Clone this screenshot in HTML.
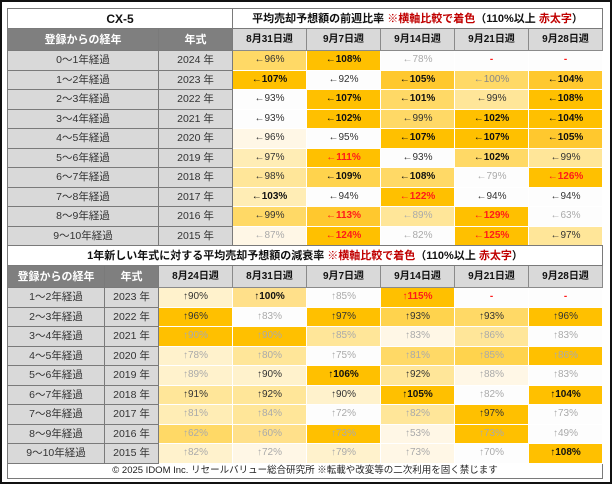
<!DOCTYPE html>
<html><head><meta charset="utf-8">
<style>
html,body{margin:0;padding:0}
body{width:612px;height:484px;position:relative;background:#fff;font-family:"Liberation Sans","Noto Sans CJK JP",sans-serif;overflow:hidden}
.frame{position:absolute;left:0;top:0;width:608px;height:480px;border:2px solid #111}
table{position:absolute;left:7px;border-collapse:collapse;table-layout:fixed;width:596px}
td{padding:0;text-align:center;font-size:10px;color:#333;border:1px solid #fff;white-space:nowrap;overflow:hidden;line-height:12px}
td.l{background:#d9d9d9;border:1px solid #7a7a7a;color:#333;font-size:10.5px}
td.h{background:#7f7f7f;color:#fff;font-weight:bold;border:1px solid #7a7a7a;font-size:11px}
td.d{background:#d9d9d9;color:#111;font-weight:bold;border:1px solid #8a8a8a;font-size:10px}
td.t{background:#fff;border:1px solid #7a7a7a;font-weight:bold;font-size:11px;color:#111}
.r{color:#c00000}
.b{font-weight:bold;color:#111}
.g{color:#aaa}
.red{color:#ff1a1a;font-weight:bold}
.o{background:#ffc000}.o2{background:#ffc82e}.o3{background:#ffd34d}.y{background:#ffd966}.y2{background:#ffe08a}.y3{background:#ffe699}.y4{background:#ffedb5}.y5{background:#fff2cc}.y6{background:#fff7e6}.w{background:#fdfdfd}
tr.r1 td{height:18.5px}
</style></head><body>
<div class="frame"></div>
<table style="top:8px">
<colgroup><col style="width:151px"><col style="width:74px"><col><col><col><col><col></colgroup>
<tr style="height:20px"><td class="t" colspan="2" style="font-size:12px">CX-5</td><td class="t" colspan="5">平均売却予想額の前週比率 <span class="r">※横軸比較で着色</span>（110%以上 <span class="r">赤太字</span>）</td></tr>
<tr style="height:22px"><td class="h">登録からの経年</td><td class="h">年式</td><td class="d">8月31日週</td><td class="d">9月7日週</td><td class="d">9月14日週</td><td class="d">9月21日週</td><td class="d">9月28日週</td></tr>
<tr class="r1"><td class="l">0～1年経過</td><td class="l">2024 年</td><td class="y">←96%</td><td class="o b">←108%</td><td class="w g">←78%</td><td class="w red">-</td><td class="w red">-</td></tr>
<tr class="r1"><td class="l">1～2年経過</td><td class="l">2023 年</td><td class="o b">←107%</td><td class="w">←92%</td><td class="o2 b">←105%</td><td class="y" style="color:#888">←100%</td><td class="o2 b">←104%</td></tr>
<tr class="r1"><td class="l">2～3年経過</td><td class="l">2022 年</td><td class="w">←93%</td><td class="o b">←107%</td><td class="y b">←101%</td><td class="y3">←99%</td><td class="o b">←108%</td></tr>
<tr class="r1"><td class="l">3～4年経過</td><td class="l">2021 年</td><td class="w">←93%</td><td class="o b">←102%</td><td class="y">←99%</td><td class="o b">←102%</td><td class="o b">←104%</td></tr>
<tr class="r1"><td class="l">4～5年経過</td><td class="l">2020 年</td><td class="y6">←96%</td><td class="w">←95%</td><td class="o b">←107%</td><td class="o b">←107%</td><td class="o2 b">←105%</td></tr>
<tr class="r1"><td class="l">5～6年経過</td><td class="l">2019 年</td><td class="y4">←97%</td><td class="o red">←111%</td><td class="w">←93%</td><td class="y b">←102%</td><td class="y3">←99%</td></tr>
<tr class="r1"><td class="l">6～7年経過</td><td class="l">2018 年</td><td class="y3">←98%</td><td class="o3 b">←109%</td><td class="y b">←108%</td><td class="w g">←79%</td><td class="o red">←126%</td></tr>
<tr class="r1"><td class="l">7～8年経過</td><td class="l">2017 年</td><td class="y4 b">←103%</td><td class="w">←94%</td><td class="o red">←122%</td><td class="w">←94%</td><td class="w">←94%</td></tr>
<tr class="r1"><td class="l">8～9年経過</td><td class="l">2016 年</td><td class="y">←99%</td><td class="o2 red">←113%</td><td class="y3 g">←89%</td><td class="o red">←129%</td><td class="w g">←63%</td></tr>
<tr class="r1"><td class="l">9～10年経過</td><td class="l">2015 年</td><td class="y6 g">←87%</td><td class="o red">←124%</td><td class="w g">←82%</td><td class="o red">←125%</td><td class="y3">←97%</td></tr>
</table>
<table style="top:245px">
<colgroup><col style="width:97px"><col style="width:54px"><col><col><col><col><col><col></colgroup>
<tr style="height:20px"><td class="t" colspan="8">1年新しい年式に対する平均売却予想額の減衰率 <span class="r">※横軸比較で着色</span>（110%以上 <span class="r">赤太字</span>）</td></tr>
<tr style="height:22px"><td class="h">登録からの経年</td><td class="h">年式</td><td class="d">8月24日週</td><td class="d">8月31日週</td><td class="d">9月7日週</td><td class="d">9月14日週</td><td class="d">9月21日週</td><td class="d">9月28日週</td></tr>
<tr class="r1"><td class="l">1～2年経過</td><td class="l">2023 年</td><td class="y5">↑90%</td><td class="y2 b">↑100%</td><td class="w g">↑85%</td><td class="o red">↑115%</td><td class="w red">-</td><td class="w red">-</td></tr>
<tr class="r1"><td class="l">2～3年経過</td><td class="l">2022 年</td><td class="o">↑96%</td><td class="w g">↑83%</td><td class="o">↑97%</td><td class="o3">↑93%</td><td class="y">↑93%</td><td class="o">↑96%</td></tr>
<tr class="r1"><td class="l">3～4年経過</td><td class="l">2021 年</td><td class="o g">↑90%</td><td class="o g">↑90%</td><td class="y3 g">↑85%</td><td class="y6 g">↑83%</td><td class="y3 g">↑86%</td><td class="w g">↑83%</td></tr>
<tr class="r1"><td class="l">4～5年経過</td><td class="l">2020 年</td><td class="y5 g">↑78%</td><td class="y3 g">↑80%</td><td class="w g">↑75%</td><td class="y g">↑81%</td><td class="o3 g">↑85%</td><td class="o g">↑86%</td></tr>
<tr class="r1"><td class="l">5～6年経過</td><td class="l">2019 年</td><td class="y5 g">↑89%</td><td class="y5">↑90%</td><td class="o b">↑106%</td><td class="y3">↑92%</td><td class="y6 g">↑88%</td><td class="w g">↑83%</td></tr>
<tr class="r1"><td class="l">6～7年経過</td><td class="l">2018 年</td><td class="y3">↑91%</td><td class="y3">↑92%</td><td class="y5">↑90%</td><td class="o b">↑105%</td><td class="w g">↑82%</td><td class="o b">↑104%</td></tr>
<tr class="r1"><td class="l">7～8年経過</td><td class="l">2017 年</td><td class="y4 g">↑81%</td><td class="y3 g">↑84%</td><td class="w g">↑72%</td><td class="y3 g">↑82%</td><td class="o">↑97%</td><td class="w g">↑73%</td></tr>
<tr class="r1"><td class="l">8～9年経過</td><td class="l">2016 年</td><td class="y g">↑62%</td><td class="y2 g">↑60%</td><td class="o g">↑73%</td><td class="y6 g">↑53%</td><td class="o g">↑73%</td><td class="w g">↑49%</td></tr>
<tr class="r1"><td class="l">9～10年経過</td><td class="l">2015 年</td><td class="y5 g">↑82%</td><td class="y6 g">↑72%</td><td class="y5 g">↑79%</td><td class="y6 g">↑73%</td><td class="w g">↑70%</td><td class="o b">↑108%</td></tr>
<tr style="height:15px"><td colspan="8" style="border:1px solid #7a7a7a;font-size:9.5px;color:#222">© 2025 IDOM Inc. リセールバリュー総合研究所 ※転載や改変等の二次利用を固く禁じます</td></tr>
</table>
</body></html>
